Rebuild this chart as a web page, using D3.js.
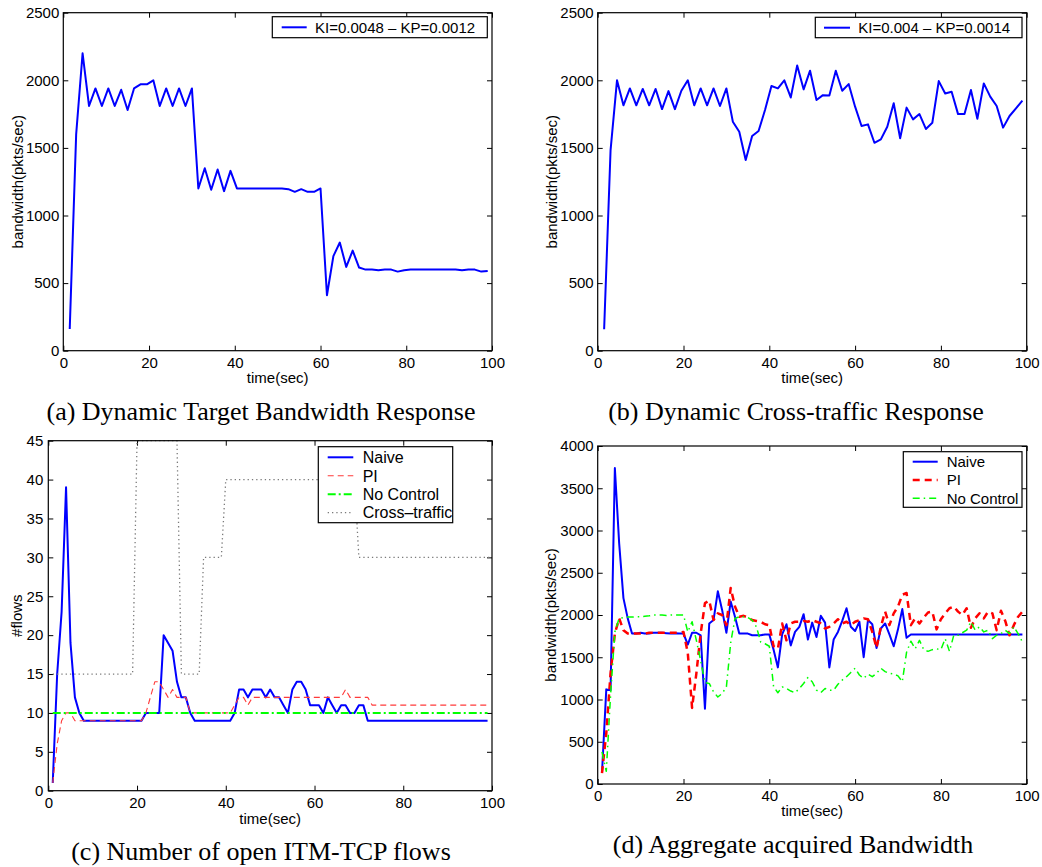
<!DOCTYPE html>
<html>
<head>
<meta charset="utf-8">
<script src="https://cdn.jsdelivr.net/npm/d3@7"></script>
<style>
body { margin: 0; background: #fff; }
svg text { font-family: "Liberation Sans", Arial, sans-serif; fill: #000; }
</style>
</head>
<body>
<svg id="fig" width="1042" height="867"></svg>
<script>
// ---- data ----
var xTicks = [0, 20, 40, 60, 80, 100];
var yTicksAB = [0, 500, 1000, 1500, 2000, 2500];
var yTicksC = [0, 5, 10, 15, 20, 25, 30, 35, 40, 45];
var yTicksD = [0, 500, 1000, 1500, 2000, 2500, 3000, 3500, 4000];

// (a) and (b) are sampled every 1.5 s starting at 1.5 s
var abStep = 1.5;
var aBandwidth = [160, 1600, 2200, 1810, 1940, 1810, 1940, 1810, 1930, 1780,
    1940, 1970, 1970, 2000, 1810, 1940, 1810, 1940, 1810, 1940,
    1200, 1350, 1190, 1340, 1180, 1330, 1200, 1200, 1200, 1200,
    1200, 1200, 1200, 1200, 1195, 1175, 1195, 1175, 1175, 1200,
    410, 700, 800, 620, 740, 615, 600, 600, 595, 600,
    600, 585, 595, 600, 600, 600, 600, 600, 600, 600,
    600, 595, 600, 600, 585, 590];
var bBandwidth = [158, 1484, 2000, 1815, 1940, 1815, 1936, 1815, 1936, 1787,
    1920, 1787, 1923, 2000, 1815, 1940, 1815, 1940, 1810, 1940,
    1694, 1620, 1410, 1588, 1625, 1780, 1958, 1940, 2000, 1873,
    2110, 1933, 2071, 1854, 1890, 1888, 2071, 1923, 1972, 1805,
    1662, 1674, 1538, 1563, 1657, 1830, 1571, 1798, 1711, 1750,
    1640, 1686, 1994, 1903, 1915, 1750, 1750, 1928, 1716, 1977,
    1879, 1810, 1650, 1736, 1793, 1849];

// (c) and (d) are sampled every second from t = 1
var cNaive = [1, 15, 23, 39, 19, 12, 10, 9, 9, 9,
    9, 9, 9, 9, 9, 9, 9, 9, 9, 9,
    9, 10, 10, 10, 10, 20, 19, 18, 14, 12,
    12, 10, 9, 9, 9, 9, 9, 9, 9, 9,
    9, 10, 13, 13, 12, 13, 13, 13, 12, 13,
    12, 12, 11, 10, 13, 14, 14, 13, 11, 11,
    11, 10, 12, 11, 10, 11, 11, 10, 10, 11,
    11, 9, 9, 9, 9, 9, 9, 9, 9, 9,
    9, 9, 9, 9, 9, 9, 9, 9, 9, 9,
    9, 9, 9, 9, 9, 9, 9, 9, 9];
var cPI = [1, 6, 9, 10, 10, 9, 9, 9, 9, 9,
    9, 9, 9, 9, 9, 9, 9, 9, 9, 9,
    9, 10, 12, 14, 14, 13, 12, 13, 12, 12,
    12, 10, 10, 10, 10, 10, 10, 10, 10, 10,
    10, 11, 12, 12, 11, 12, 12, 12, 12, 12,
    12, 12, 12, 12, 12, 12, 12, 12, 12, 12,
    12, 12, 12, 12, 12, 12, 13, 12, 12, 12,
    12, 12, 11, 11, 11, 11, 11, 11, 11, 11,
    11, 11, 11, 11, 11, 11, 11, 11, 11, 11,
    11, 11, 11, 11, 11, 11, 11, 11, 11];
var cNoControlT = [1, 99];
var cNoControl = [10, 10];
var cCrossT = [1, 19, 20, 29, 30, 34, 35, 39, 40, 69, 70, 100];
var cCross = [15, 15, 45, 45, 15, 15, 30, 30, 40, 40, 30, 30];

var dNaive = [130, 1120, 1110, 3740, 2850, 2200, 1960, 1780, 1780, 1790,
    1780, 1780, 1790, 1790, 1790, 1785, 1780, 1785, 1780, 1780,
    1650, 1790, 1790, 1760, 890, 1900, 1940, 2280, 2060, 1790,
    2160, 1980, 1780, 1780, 1780, 1760, 1760, 1760, 1770, 1770,
    1590, 1380, 1770, 1890, 1640, 1800, 1860, 2010, 1710, 1910,
    1740, 1990, 1910, 1380, 1710, 1800, 1930, 2080, 1860, 1810,
    1920, 1500, 1940, 1890, 1610, 1840, 1900, 1770, 1630, 1830,
    2070, 1730, 1770, 1770, 1770, 1770, 1770, 1770, 1770, 1770,
    1770, 1770, 1770, 1770, 1770, 1770, 1770, 1770, 1770, 1770,
    1770, 1770, 1770, 1770, 1770, 1770, 1770, 1770, 1770];
var dPI = [130, 600, 1310, 1780, 1960, 1820, 1780, 1780, 1780, 1780,
    1780, 1790, 1790, 1790, 1790, 1790, 1790, 1790, 1790, 1800,
    1550, 900, 1310, 1780, 2140, 2170, 1940, 2020, 2000, 1880,
    2320, 2100, 1980, 1990, 1970, 1940, 1930, 1920, 1890, 1880,
    1630, 1600, 1900, 1700, 1900, 1920, 1920, 1930, 1920, 1940,
    1920, 1900, 1840, 1860, 1900, 1950, 1900, 1920, 1880, 1920,
    1940, 1960, 1950, 1800, 1610, 1860, 2040, 1880, 2020, 2100,
    2240, 2260, 1880, 1960, 1900, 1970, 2030, 2040, 1830, 1950,
    2020, 2080, 2100, 2040, 2000, 2080, 1850, 1960, 2020, 1960,
    2040, 2020, 1820, 2050, 1930, 1760, 1880, 1980, 2040];
var dNoControl = [380, 150, 1050, 1800, 1960, 1970, 1975, 1975, 1980, 1980,
    1985, 1990, 2000, 2000, 2000, 1995, 2000, 2000, 2000, 2000,
    1800, 1920, 1700, 1460, 1200, 1190, 1090, 1030, 1070, 1150,
    1670, 1960, 1980, 1980, 1970, 1940, 1860, 1680, 1660, 1630,
    1150, 1080, 1150, 1130, 1100, 1080, 1130, 1190, 1260, 1210,
    1110, 1080, 1130, 1110, 1110, 1180, 1230, 1270, 1320, 1370,
    1290, 1250, 1300, 1270, 1310, 1370, 1330, 1310, 1300, 1280,
    1210, 1560, 1690, 1600, 1700, 1590, 1570, 1590, 1600, 1590,
    1720, 1570, 1760, 1760, 1790, 1820, 1920, 1820, 1860, 1800,
    1820, 1720, 1760, 1780, 1820, 1780, 1860, 1780, 1680];

// pair each value with its time
function stepped(vals, step) {
    return vals.map(function(v, i) { return [(i + 1) * step, v]; });
}
function paired(ts, vals) {
    return vals.map(function(v, i) { return [ts[i], v]; });
}

var svg = d3.select("#fig");
svg.append("rect").attr("width", 1042).attr("height", 867).attr("fill", "#fff");

var fmt = d3.format("d");

function drawPanel(cfg) {
    var g = svg.append("g");
    var x = d3.scaleLinear().domain([0, 100]).range([cfg.left, cfg.right]);
    var y = d3.scaleLinear().domain([0, cfg.yMax]).range([cfg.bottom, cfg.top]);

    // ticks on all four sides, pointing inward (matlab style)
    var bottomAx = g.append("g").attr("transform", "translate(0," + cfg.bottom + ")")
        .call(d3.axisBottom(x).tickValues(xTicks).tickFormat(fmt).tickSize(-5).tickSizeOuter(0).tickPadding(6.5));
    var leftAx = g.append("g").attr("transform", "translate(" + cfg.left + ",0)")
        .call(d3.axisLeft(y).tickValues(cfg.yTicks).tickFormat(fmt).tickSize(-5).tickSizeOuter(0).tickPadding(cfg.yPad));
    var topAx = g.append("g").attr("transform", "translate(0," + cfg.top + ")")
        .call(d3.axisTop(x).tickValues(xTicks).tickSize(-5).tickSizeOuter(0).tickFormat(""));
    var rightAx = g.append("g").attr("transform", "translate(" + cfg.right + ",0)")
        .call(d3.axisRight(y).tickValues(cfg.yTicks).tickSize(-5).tickSizeOuter(0).tickFormat(""));
    [bottomAx, leftAx, topAx, rightAx].forEach(function(a) {
        a.select(".domain").remove();
        a.selectAll("line").attr("stroke", "#000").attr("stroke-width", 1);
        a.selectAll("text").style("font-size", "15px").attr("fill", "#000");
    });

    var line = d3.line().x(function(d) { return x(d[0]); }).y(function(d) { return y(d[1]); });
    cfg.series.forEach(function(s) {
        g.append("path").datum(s.data).attr("d", line)
            .attr("fill", "none").attr("stroke", s.color).attr("stroke-width", s.width)
            .attr("stroke-dasharray", s.dash).attr("stroke-linejoin", "round");
    });

    g.append("rect").attr("x", cfg.left).attr("y", cfg.top)
        .attr("width", cfg.right - cfg.left).attr("height", cfg.bottom - cfg.top)
        .attr("fill", "none").attr("stroke", "#000").attr("stroke-width", 1.2);

    // legend
    var lg = cfg.legend;
    g.append("rect").attr("x", lg.x).attr("y", lg.y).attr("width", lg.w).attr("height", lg.h)
        .attr("fill", "#fff").attr("stroke", "#000").attr("stroke-width", 1.2);
    lg.rows.forEach(function(r, i) {
        var s = cfg.series[r.series];
        var ry = lg.firstY + i * lg.rowH;
        g.append("line").attr("x1", lg.lineX0).attr("x2", lg.lineX1).attr("y1", ry).attr("y2", ry)
            .attr("stroke", s.color).attr("stroke-width", s.width).attr("stroke-dasharray", s.dash);
        g.append("text").attr("x", lg.textX).attr("y", ry).attr("dy", "0.36em")
            .style("font-size", lg.fontSize + "px").text(r.label);
    });

    g.append("text").attr("x", (cfg.left + cfg.right) / 2).attr("y", cfg.xLabelY)
        .attr("text-anchor", "middle").style("font-size", "15px").text("time(sec)");
    g.append("text").attr("transform", "translate(" + cfg.yLabelX + "," + (cfg.top + cfg.bottom) / 2 + ") rotate(-90)")
        .attr("text-anchor", "middle").style("font-size", "15px").text(cfg.yLabel);

    g.append("text").attr("x", cfg.capX).attr("y", cfg.capY).attr("text-anchor", "middle")
        .style("font-family", '"Liberation Serif", "Times New Roman", serif').style("font-size", "26px")
        .text(cfg.caption);
}

drawPanel({
    left: 63.3, right: 492, top: 12.7, bottom: 350.7, yMax: 2500, yTicks: yTicksAB, yPad: 4,
    xLabelY: 383, yLabelX: 23, yLabel: "bandwidth(pkts/sec)",
    series: [{data: stepped(aBandwidth, abStep), color: "#0000ff", width: 2, dash: null}],
    legend: {x: 272.3, y: 16.7, w: 215, h: 21, rowH: 0, firstY: 27.3, lineX0: 281.7, lineX1: 306.7,
        textX: 315, fontSize: 15, rows: [{series: 0, label: "KI=0.0048 \u2013 KP=0.0012"}]},
    caption: "(a) Dynamic Target Bandwidth Response", capX: 261, capY: 420
});

drawPanel({
    left: 597.7, right: 1026.7, top: 12.7, bottom: 350.7, yMax: 2500, yTicks: yTicksAB, yPad: 4,
    xLabelY: 383, yLabelX: 557, yLabel: "bandwidth(pkts/sec)",
    series: [{data: stepped(bBandwidth, abStep), color: "#0000ff", width: 2, dash: null}],
    legend: {x: 815.3, y: 17.3, w: 206.7, h: 20.4, rowH: 0, firstY: 27.7, lineX0: 824, lineX1: 850,
        textX: 858.3, fontSize: 15, rows: [{series: 0, label: "KI=0.004 \u2013 KP=0.0014"}]},
    caption: "(b) Dynamic Cross-traffic Response", capX: 796, capY: 420
});

drawPanel({
    left: 48.3, right: 492, top: 440.7, bottom: 790.7, yMax: 45, yTicks: yTicksC, yPad: 5,
    xLabelY: 824, yLabelX: 22, yLabel: "#flows",
    series: [
        {data: stepped(cNaive, 1), color: "#0000ff", width: 2, dash: null},
        {data: stepped(cPI, 1), color: "#ff3a3a", width: 1.1, dash: "6,4"},
        {data: paired(cNoControlT, cNoControl), color: "#00ff00", width: 2, dash: "8,3,2,3"},
        {data: paired(cCrossT, cCross), color: "#7a7a7a", width: 1.3, dash: "1.3,3"}
    ],
    legend: {x: 318.3, y: 446.7, w: 134.4, h: 76, rowH: 18.45, firstY: 457.3, lineX0: 327.7, lineX1: 353.3,
        textX: 362.7, fontSize: 16, rows: [
            {series: 0, label: "Naive"}, {series: 1, label: "PI"},
            {series: 2, label: "No Control"}, {series: 3, label: "Cross\u2013traffic"}]},
    caption: "(c) Number of open ITM-TCP flows", capX: 261, capY: 860
});

drawPanel({
    left: 597.7, right: 1026.7, top: 446, bottom: 784, yMax: 4000, yTicks: yTicksD, yPad: 4,
    xLabelY: 816, yLabelX: 556, yLabel: "bandwidth(pkts/sec)",
    series: [
        {data: stepped(dNaive, 1), color: "#0000ff", width: 2, dash: null},
        {data: stepped(dPI, 1), color: "#ff0000", width: 2.5, dash: "7,5"},
        {data: stepped(dNoControl, 1), color: "#00ff00", width: 1.5, dash: "7,4,1.5,4"}
    ],
    legend: {x: 903.3, y: 451.7, w: 118.7, h: 55.6, rowH: 18.3, firstY: 461.7, lineX0: 912.7, lineX1: 937.7,
        textX: 946.7, fontSize: 15, rows: [
            {series: 0, label: "Naive"}, {series: 1, label: "PI"}, {series: 2, label: "No Control"}]},
    caption: "(d) Aggregate acquired Bandwidth", capX: 793, capY: 853
});
</script>
</body>
</html>
